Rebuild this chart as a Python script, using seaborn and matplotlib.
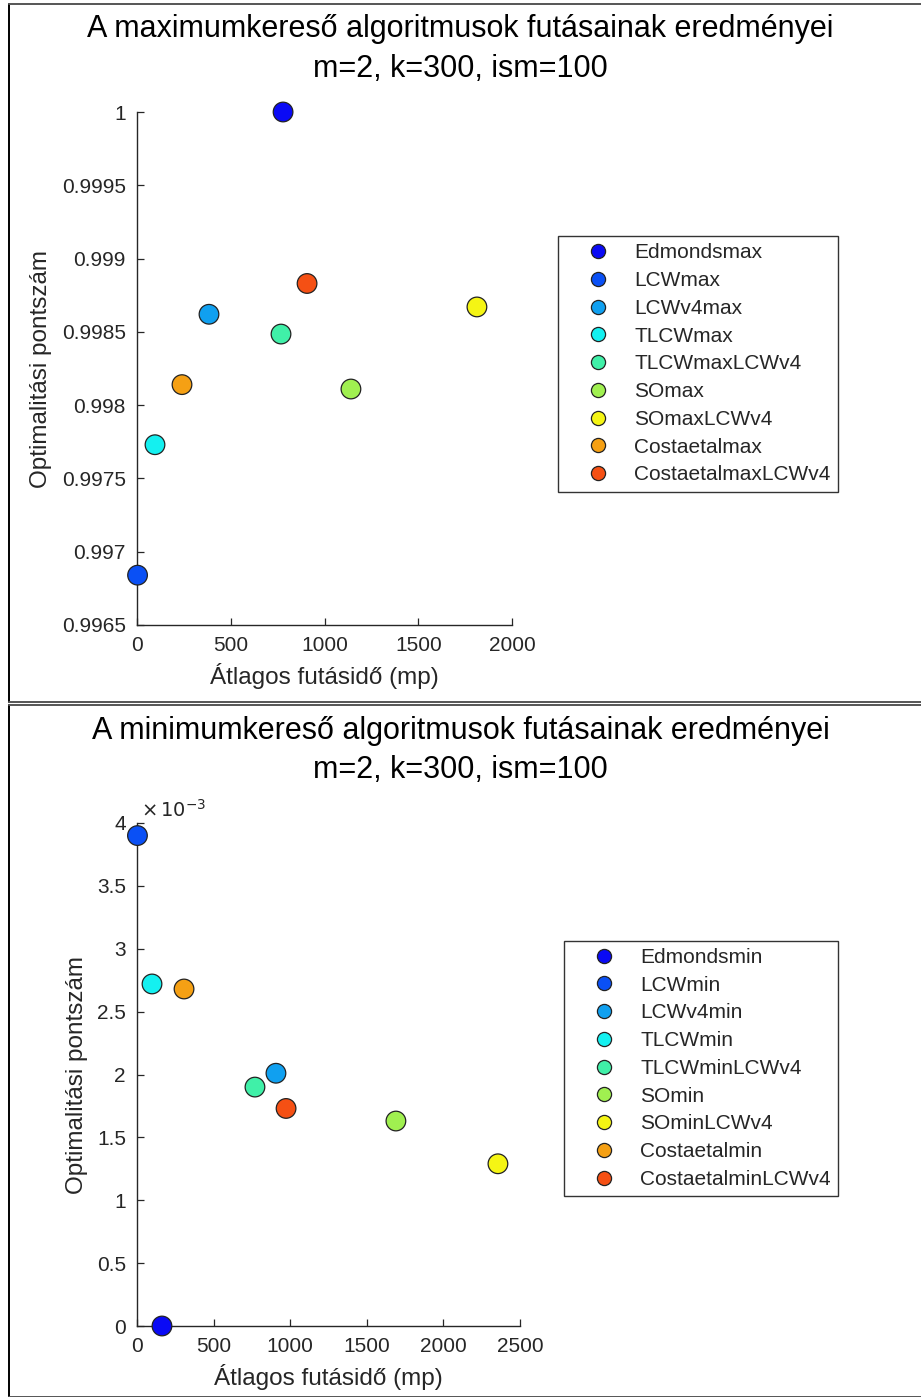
import matplotlib
matplotlib.use("Agg")
import matplotlib.pyplot as plt
import seaborn as sns
import pandas as pd
from matplotlib.ticker import FuncFormatter, MultipleLocator
from matplotlib.lines import Line2D

sns.set_theme(style="white")
plt.rcParams['font.family'] = ['Liberation Sans', 'DejaVu Sans']

# ---------------- data ----------------
max_names = ["Edmondsmax", "LCWmax", "LCWv4max", "TLCWmax", "TLCWmaxLCWv4",
             "SOmax", "SOmaxLCWv4", "Costaetalmax", "CostaetalmaxLCWv4"]
max_time = [779, 3, 384, 96, 768, 1141, 1813, 240, 907]
max_score = [1.0, 0.99684, 0.99862, 0.99773, 0.998485, 0.99811, 0.99867, 0.99814, 0.99883]

min_names = ["Edmondsmin", "LCWmin", "LCWv4min", "TLCWmin", "TLCWminLCWv4",
             "SOmin", "SOminLCWv4", "Costaetalmin", "CostaetalminLCWv4"]
min_time = [163, 3, 907, 98, 770, 1690, 2356, 307, 973]
min_score = [0.0, 0.0039, 0.00201, 0.00272, 0.0019, 0.00163, 0.00129, 0.00268, 0.00173]

colors = ["#0a0af5", "#0a50f5", "#10a0f0", "#14f0f0", "#40f0a8",
          "#a0f050", "#f5f514", "#f5a014", "#f55014"]

title_max = ["A maximumkereső algoritmusok futásainak eredményei", "m=2, k=300, ism=100"]
title_min = ["A minimumkereső algoritmusok futásainak eredményei", "m=2, k=300, ism=100"]
xlabel = "Átlagos futásidő (mp)"
ylabel = "Optimalitási pontszám"

TXT = "#262626"

fig = plt.figure(figsize=(9.21, 13.97), dpi=100)
W, H = 921, 1397


def fx(px):
    return px / W


def fy(py):
    return 1 - py / H


# panel frames
for (y0, y1) in [(4, 702), (705, 1397)]:
    fig.add_artist(Line2D([fx(9), fx(9)], [fy(y0), fy(y1)], color="black", lw=1.4))
    fig.add_artist(Line2D([fx(9), 1], [fy(y0), fy(y0)], color="#555555", lw=1.4))
    fig.add_artist(Line2D([fx(9), 1], [fy(y1), fy(y1)], color="#555555", lw=1.4))


def draw(ax, names, xs, ys, xlim, ylim, yfmt, leg_anchor, ylab_x):
    df = pd.DataFrame({"name": names, "x": xs, "y": ys})
    pal = dict(zip(names, colors))
    sns.scatterplot(data=df, x="x", y="y", hue="name", hue_order=names, palette=pal,
                    s=200, edgecolor="#222222", linewidth=0.9, ax=ax, zorder=3)
    for c in ax.collections:
        c.set_clip_on(False)
    ax.set_xlim(*xlim)
    ax.set_ylim(*ylim)
    ax.xaxis.set_major_locator(MultipleLocator(500))
    ax.yaxis.set_major_locator(MultipleLocator(0.0005))
    ax.yaxis.set_major_formatter(FuncFormatter(yfmt))
    ax.xaxis.set_major_formatter(FuncFormatter(lambda v, p: f"{v:g}"))
    for side in ["top", "right"]:
        ax.spines[side].set_visible(False)
    for side in ["left", "bottom"]:
        ax.spines[side].set_color(TXT)
        ax.spines[side].set_linewidth(1.0)
    ax.tick_params(direction="in", length=5, width=0.9, colors=TXT,
                   labelsize=15, left=True, bottom=True, pad=8)
    ax.set_xlabel(xlabel, fontsize=17.5, color=TXT, labelpad=6)
    ax.set_ylabel(ylabel, fontsize=17.5, color=TXT)
    ax.yaxis.set_label_coords(ylab_x, 0.5)
    handles, labels = ax.get_legend_handles_labels()
    leg = ax.legend(handles, labels, loc="upper left", bbox_to_anchor=leg_anchor,
                    borderaxespad=0, frameon=True, fancybox=False, framealpha=1,
                    edgecolor="#333333", fontsize=15, markerscale=0.72,
                    labelspacing=0.42, handletextpad=0.2, borderpad=0.35,
                    handlelength=3.1)
    leg.get_frame().set_linewidth(1.0)
    for t in leg.get_texts():
        t.set_color(TXT)
    return ax


ax1 = fig.add_axes([fx(137), fy(625), fx(512) - fx(137), fy(112) - fy(625)])
draw(ax1, max_names, max_time, max_score, (0, 2000), (0.9965, 1.0),
     lambda v, p: f"{v:g}", (1.123, 0.758), -0.227)
fig.text(0.5, fy(29), title_max[0], ha="center", va="center", fontsize=22, color="black")
fig.text(0.5, fy(69), title_max[1], ha="center", va="center", fontsize=22, color="black")

ax2 = fig.add_axes([fx(137), fy(1326), fx(520) - fx(137), fy(823) - fy(1326)])
draw(ax2, min_names, min_time, min_score, (0, 2500), (0, 0.004),
     lambda v, p: f"{v * 1000:g}", (1.115, 0.766), -0.128)
ax2.text(0.01, 1.005, r"$\times\,10^{-3}$", transform=ax2.transAxes, fontsize=14,
         color=TXT, ha="left", va="bottom")
fig.text(0.5, fy(731), title_min[0], ha="center", va="center", fontsize=22, color="black")
fig.text(0.5, fy(770), title_min[1], ha="center", va="center", fontsize=22, color="black")

fig.savefig("out.png", dpi=100)
